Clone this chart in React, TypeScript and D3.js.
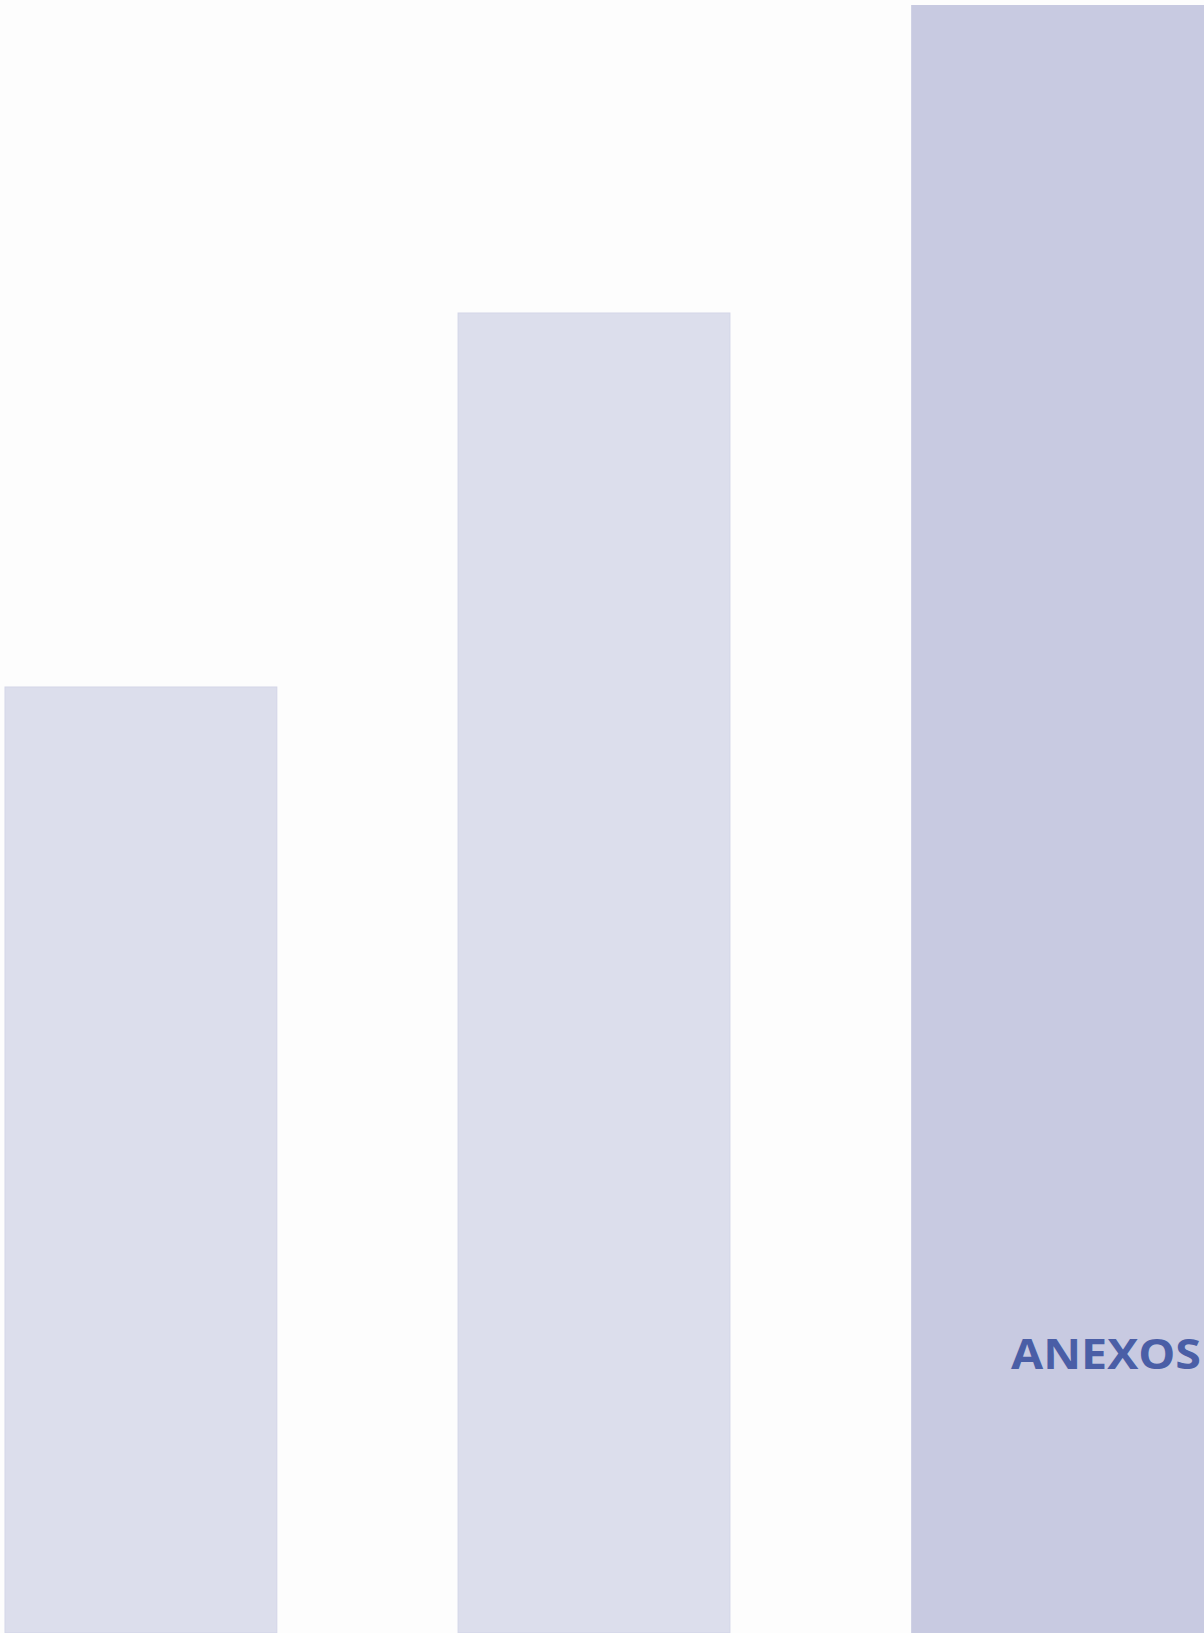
import React from "react";
import * as d3 from "d3";

const categories = ["I", "II", "III"];
const values = [946, 1320, 1628];
const barColors = ["#dcdeec", "#dcdeec", "#c8cae1"];
const titleText = "ANEXOS";

const W = 1204;
const H = 1633;

export default function App() {
  const x = d3.scaleBand<string>().domain(categories).range([5, 1183]).paddingInner(0.4).paddingOuter(0);
  const y = d3.scaleLinear().domain([0, 1628]).range([H, 5]);
  return (
    <svg width={W} height={H} style={{ position: "absolute", left: 0, top: 0, display: "block" }}>
      <rect x={0} y={0} width={W} height={H} fill="#fdfdfd" />
      {categories.map((c, i) => {
        const bx = x(c) as number;
        const bw = i === categories.length - 1 ? W - bx : x.bandwidth();
        return (
          <rect key={c} x={bx} y={y(values[i])} width={bw} height={H - y(values[i])} fill={barColors[i]} stroke={i < 2 ? "#d3d5e8" : "none"} strokeWidth={1} />
        );
      })}
      <text
        x={1011}
        y={1369}
        fill="#4a5ea6"
        fontFamily="'Open Sans', sans-serif"
        fontWeight="bold"
        fontSize={42}
        textLength={190}
        lengthAdjust="spacingAndGlyphs"
      >
        {titleText}
      </text>
    </svg>
  );
}
